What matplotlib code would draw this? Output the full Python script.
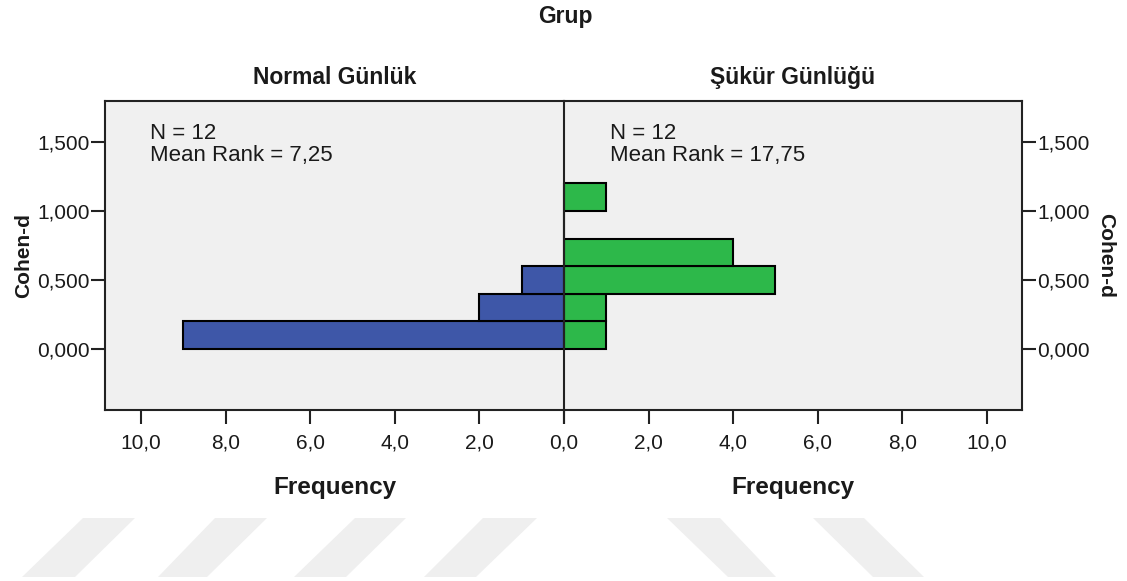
import matplotlib
matplotlib.use('Agg')
import matplotlib.pyplot as plt
from matplotlib.patches import Polygon
from matplotlib.ticker import FuncFormatter, FixedLocator

plt.rcParams['font.family'] = ['Liberation Sans', 'DejaVu Sans']

# histogram data (Cohen-d bins, width 0.2)
bin_starts = [0.0, 0.2, 0.4, 0.6, 0.8, 1.0]
normal_counts = [9, 2, 1, 0, 0, 0]
sukur_counts = [1, 1, 5, 4, 0, 1]
group_names = ['Normal Günlük', 'Şükür Günlüğü']
n_values = [12, 12]
mean_ranks = ['7,25', '17,75']
y_ticks = [0.0, 0.5, 1.0, 1.5]
x_ticks = [0, 2, 4, 6, 8, 10]

BIN_W = 0.2
BG = '#f0f0f0'
BLUE = '#3e57a8'
GREEN = '#2db84a'
TXT = '#1a1a1a'
W, H = 1127, 581

fig = plt.figure(figsize=(W / 100, H / 100), dpi=100)
fig.patch.set_facecolor('white')

# watermark stripes at the bottom (pixel coords, top-left origin)
stripes = [
    [(83, 518), (135, 518), (75, 577), (22, 577)],
    [(215, 518), (267, 518), (207, 577), (158, 577)],
    [(355, 518), (406, 518), (346, 577), (294, 577)],
    [(483, 518), (537, 518), (476, 577), (424, 577)],
    [(667, 518), (720, 518), (776, 577), (728, 577)],
    [(813, 518), (864, 518), (924, 577), (873, 577)],
]
for s in stripes:
    pts = [(x / W, 1 - y / H) for x, y in s]
    fig.patches.append(Polygon(pts, closed=True, transform=fig.transFigure,
                               facecolor='#efefef', edgecolor='none', zorder=0))

bottom = 1 - 410 / H
height = 309 / H
ax1 = fig.add_axes([105 / W, bottom, 459 / W, height])
ax2 = fig.add_axes([564 / W, bottom, 458 / W, height])

yfmt = FuncFormatter(lambda v, p: f'{v:.3f}'.replace('.', ','))
xfmt = FuncFormatter(lambda v, p: f'{v:.1f}'.replace('.', ','))
xfmt_left = FuncFormatter(lambda v, p: '' if v == 0 else f'{v:.1f}'.replace('.', ','))

for ax, counts, color in [(ax1, normal_counts, BLUE), (ax2, sukur_counts, GREEN)]:
    ax.set_facecolor(BG)
    ax.barh(bin_starts, counts, height=BIN_W, align='edge', color=color,
            edgecolor='black', linewidth=1.5, zorder=3)
    ax.set_ylim(-0.442, 1.797)
    ax.yaxis.set_major_locator(FixedLocator(y_ticks))
    ax.xaxis.set_major_locator(FixedLocator(x_ticks))
    ax.yaxis.set_major_formatter(yfmt)
    for sp in ax.spines.values():
        sp.set_linewidth(1.5)
        sp.set_color('#222222')
    ax.tick_params(axis='both', length=10, width=1.5, color='#222222',
                   labelsize=15, labelcolor=TXT)
    ax.tick_params(axis='x', pad=7)
    ax.tick_params(axis='y', pad=1)
    ax.set_xlabel('Frequency', fontsize=17.5, fontweight='bold', color=TXT,
                  labelpad=17)

ax1.xaxis.set_major_formatter(xfmt_left)
ax2.xaxis.set_major_formatter(xfmt)
ax1.set_xlim(10.85, 0)
ax2.set_xlim(0, 10.83)
ax1.spines['right'].set_visible(False)
ax2.spines['left'].set_zorder(4)
ax2.yaxis.tick_right()
ax2.yaxis.set_label_position('right')

ax1.set_ylabel('Cohen-d', fontsize=15, fontweight='bold', color=TXT, labelpad=3)
ax2.set_ylabel('Cohen-d', fontsize=15, fontweight='bold', color=TXT,
               rotation=-90, labelpad=18)

for ax, name, n, mr, xpos in [(ax1, group_names[0], n_values[0], mean_ranks[0], 45),
                              (ax2, group_names[1], n_values[1], mean_ranks[1], 46)]:
    ax.set_title(name, fontsize=16.5, fontweight='bold', color=TXT, pad=12)
    ax.text(xpos / 459, 1 - 22 / 309, f'N = {n}\nMean Rank = {mr}',
            transform=ax.transAxes, ha='left', va='top', fontsize=16,
            color=TXT, linespacing=1.08)

fig.text(565 / W, 1 - 17 / H, 'Grup', ha='center', va='center', fontsize=16.5,
         fontweight='bold', color=TXT)

fig.savefig('out.png', dpi=100, facecolor='white')
